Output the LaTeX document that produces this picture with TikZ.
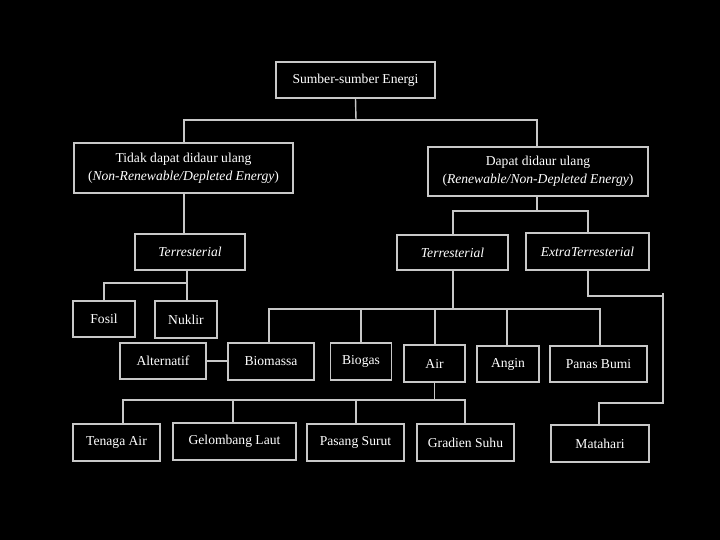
\documentclass[tikz,border=0pt]{standalone}
\usepackage{fontspec}
\setmainfont{Liberation Serif}
\begin{document}
\begin{tikzpicture}[x=1pt,y=-1pt,
  box/.style={draw=boxgray, line width=1.6pt, fill=black, text=white, inner sep=0pt, align=center,
    font=\fontsize{13.6}{18}\selectfont},
  conn/.style={draw=boxgray, line width=1.4pt}]
\definecolor{boxgray}{RGB}{200,200,200}
\fill[black] (0,0) rectangle (720,540);
\useasboundingbox (0,0) rectangle (720,540);
% nodes
\node[box, minimum width=159, minimum height=36] (top) at (355.5,80) {Sumber-sumber Energi};
\node[box, minimum width=219, minimum height=50] (tidak) at (183.5,168) {Tidak dapat didaur ulang\\(\textit{Non-Renewable/Depleted Energy})};
\node[box, minimum width=220, minimum height=49] (dapat) at (538,171.5) {Dapat didaur ulang\\(\textit{Renewable/Non-Depleted Energy})};
\node[box, minimum width=110, minimum height=36] (terrL) at (190,252) {\textit{Terresterial}};
\node[box, minimum width=111, minimum height=35] (terrR) at (452.5,252.5) {\textit{Terresterial}};
\node[box, minimum width=123, minimum height=37] (extra) at (587.5,251.5) {\textit{ExtraTerresterial}};
\node[box, minimum width=62, minimum height=36] (fosil) at (104,319) {Fosil};
\node[box, minimum width=62, minimum height=37] (nuklir) at (186,319.5) {Nuklir};
\node[box, minimum width=86, minimum height=36] (alt) at (163,361) {Alternatif};
\node[box, minimum width=86, minimum height=37] (bio) at (271,361.5) {Biomassa};
\node[box, minimum width=61, minimum height=37] (biogas) at (361,361.5) {Biogas};
\node[box, minimum width=61, minimum height=37] (air) at (434.5,363.5) {Air};
\node[box, minimum width=62, minimum height=36] (angin) at (508,364) {Angin};
\node[box, minimum width=97, minimum height=36] (panas) at (598.5,364) {Panas Bumi};
\node[box, minimum width=87, minimum height=37] (tenaga) at (116.5,442.5) {Tenaga Air};
\node[box, minimum width=123, minimum height=37] (gel) at (234.5,441.5) {Gelombang Laut};
\node[box, minimum width=97, minimum height=37] (pasang) at (355.5,442.5) {Pasang Surut};
\node[box, minimum width=97, minimum height=37] (gradien) at (465.5,442.5) {Gradien Suhu};
\node[box, minimum width=98, minimum height=37] (mata) at (600,443.5) {Matahari};
% junctions
\coordinate (j1) at (356,120);
\coordinate (j2) at (537,211);
\coordinate (j3) at (187,283);
\coordinate (j4) at (453,309);
\coordinate (j5) at (434.5,400);
\coordinate (e1) at (663,296);
\coordinate (e2) at (663,403);
% connectors
\draw[conn] (top.south) -- (j1);
\draw[conn] (tidak.north -| 184,0) |- (j1) -| (dapat.north -| 537,0);
\draw[conn] (tidak.south -| 184,0) -- (terrL.north -| 184,0);
\draw[conn] (dapat.south -| j2) -- (j2);
\draw[conn] (terrR.north -| 453,0) |- (j2) -| (extra.north -| 588,0);
\draw[conn] (terrL.south -| j3) -- (j3);
\draw[conn] (fosil.north -| 104,0) |- (j3) -- (nuklir.north -| j3);
\draw[conn] (alt.east) -- (alt.east -| bio.west);
\draw[conn] (terrR.south -| j4) -- (j4);
\draw[conn] (bio.north -| 269,0) |- (j4) -| (panas.north -| 600,0);
\draw[conn] (biogas.north) -- (biogas.north |- j4);
\draw[conn] (air.north -| 435,0) -- (435,309);
\draw[conn] (angin.north -| 507,0) -- (507,309);
\draw[conn] (air.south) -- (j5);
\draw[conn] (tenaga.north -| 123,0) |- (j5) -| (gradien.north -| 465,0);
\draw[conn] (gel.north -| 233,0) -- (233,400);
\draw[conn] (pasang.north -| 356,0) -- (356,400);
\draw[conn] (extra.south -| 588,0) |- (e1) -- (e2) -| (mata.north -| 599,0);
\draw[conn] (e1) -- (663,293);
\end{tikzpicture}
\end{document}
